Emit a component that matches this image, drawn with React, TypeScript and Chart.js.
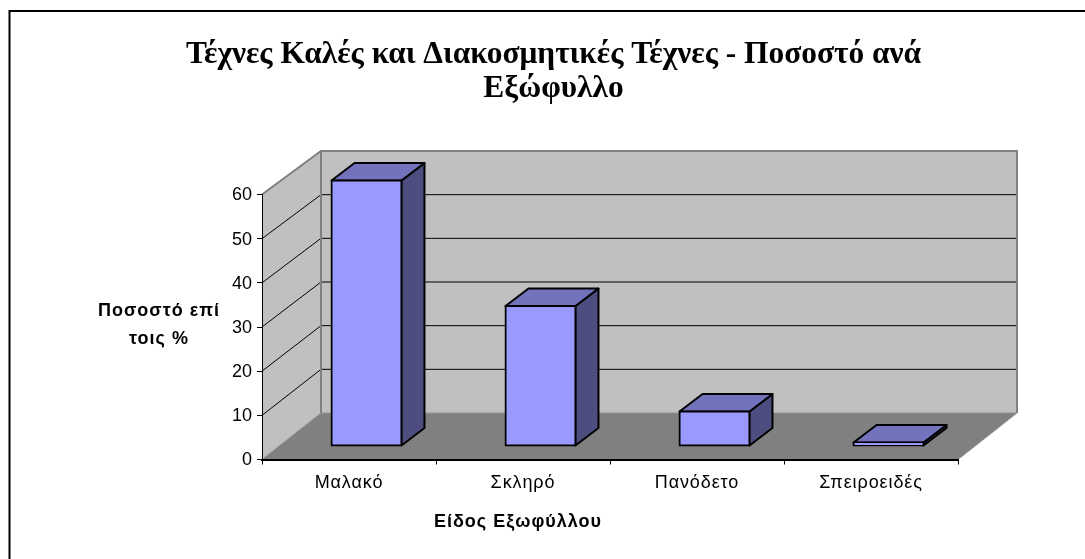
import React, { useEffect, useRef } from "react";
import { Chart, registerables } from "chart.js";

Chart.register(...registerables);

const categories = ["Μαλακό", "Σκληρό", "Πανόδετο", "Σπειροειδές"];
const percentages = [60.1, 31.7, 7.8, 0.8];
const titleLines = ["Τέχνες Καλές και Διακοσμητικές Τέχνες - Ποσοστό ανά", "Εξώφυλλο"];
const yMax = 60;
const yStep = 10;
const xAxisTitle = "Είδος Εξωφύλλου";
const yAxisTitleLines = ["Ποσοστό επί", "τοις %"];

const BAR_DX = 17.5, BAR_DY = -13.5;
const DEPTH_X = 23, DEPTH_Y = -17.5;
const BACK_X = 59;

const backY = (y: number, top: number, bottom: number) => {
  const t = (bottom - y) / (bottom - top);
  return y - 46.5 + 3 * t;
};

const poly = (ctx: CanvasRenderingContext2D, pts: number[][], fill: string | null, stroke: string | null, lw = 1) => {
  ctx.beginPath();
  pts.forEach((p, i) => (i ? ctx.lineTo(p[0], p[1]) : ctx.moveTo(p[0], p[1])));
  ctx.closePath();
  if (fill) { ctx.fillStyle = fill; ctx.fill(); }
  if (stroke) { ctx.strokeStyle = stroke; ctx.lineWidth = lw; ctx.lineJoin = "round"; ctx.stroke(); }
};

const line = (ctx: CanvasRenderingContext2D, pts: number[][], stroke: string, lw: number) => {
  ctx.beginPath();
  pts.forEach((p, i) => (i ? ctx.lineTo(p[0], p[1]) : ctx.moveTo(p[0], p[1])));
  ctx.strokeStyle = stroke; ctx.lineWidth = lw; ctx.stroke();
};

const scenePlugin = {
  id: "scene",
  beforeDraw(chart: any) {
    const { ctx, width, height, chartArea: a, scales } = chart;
    const ys = scales.y;
    const xs = scales.x;
    if (!xs._spaced) {
      const orig = xs.drawLabels;
      xs.drawLabels = function (area: any) {
        ctx.save();
        (ctx as any).letterSpacing = "0.9px";
        orig.call(xs, area);
        ctx.restore();
      };
      xs._spaced = true;
    }
    const L = a.left, R = a.right, T = a.top, B = a.bottom;
    const bx = (x: number) => x + BACK_X;
    const by = (y: number) => backY(y, T, B);
    ctx.save();
    ctx.fillStyle = "#fff";
    ctx.fillRect(0, 0, width, height);
    line(ctx, [[9.5, height], [9.5, 11], [width, 11]], "#000", 2);
    poly(ctx, [[L, T], [bx(L), by(T)], [bx(L), by(B)], [L, B]], "#C0C0C0", null);
    poly(ctx, [[bx(L), by(T)], [bx(R), by(T)], [bx(R), by(B)], [bx(L), by(B)]], "#C0C0C0", null);
    poly(ctx, [[L, B], [bx(L), by(B)], [bx(R), by(B)], [R, B]], "#808080", null);
    ys.ticks.forEach((t: any) => {
      if (t.value === 0 || t.value === yMax) return;
      const y = ys.getPixelForValue(t.value);
      line(ctx, [[L, y], [bx(L), by(y)], [bx(R), by(y)]], "#000", 1);
    });
    line(ctx, [[L, T], [bx(L), by(T)], [bx(R), by(T)], [bx(R), by(B)]], "#808080", 2);
    line(ctx, [[L, B], [bx(L), by(B)]], "#909090", 1);
    line(ctx, [[bx(L), by(T)], [bx(L), by(B)]], "#808080", 2);
    line(ctx, [[bx(L), by(B)], [bx(R), by(B)], [R, B]], "#949494", 1);
    ctx.restore();
  },
  beforeDatasetsDraw(chart: any) {
    const { ctx } = chart;
    ctx.save();
    chart.getDatasetMeta(0).data.forEach((bar: any) => {
      const l = bar.x - bar.width / 2 + BAR_DX;
      const r = bar.x + bar.width / 2 + BAR_DX;
      const t = bar.y + BAR_DY;
      const b = bar.base + BAR_DY;
      poly(ctx, [[r, t], [r + DEPTH_X, t + DEPTH_Y], [r + DEPTH_X, b + DEPTH_Y], [r, b]], "#4D4D80", "#000", 2);
      poly(ctx, [[l, t], [l + DEPTH_X, t + DEPTH_Y], [r + DEPTH_X, t + DEPTH_Y], [r, t]], "#7373BD", "#000", 2);
    });
    ctx.restore();
  },
  beforeDatasetDraw(chart: any) {
    chart.ctx.save();
    chart.ctx.translate(BAR_DX, BAR_DY);
  },
  afterDatasetDraw(chart: any) {
    chart.ctx.restore();
  },
  afterDraw(chart: any) {
    const { ctx } = chart;
    ctx.save();
    ctx.fillStyle = "#000";
    ctx.textAlign = "center";
    ctx.textBaseline = "middle";
    ctx.font = "bold 18px 'Liberation Sans'";
    (ctx as any).letterSpacing = "1px";
    ctx.fillText(yAxisTitleLines[0], 159, 311);
    ctx.fillText(yAxisTitleLines[1], 159, 339);
    ctx.fillText(xAxisTitle, 518, 522);
    ctx.restore();
  },
};

export default function App() {
  const ref = useRef<HTMLCanvasElement>(null);
  useEffect(() => {
    const chart = new Chart(ref.current!, {
      type: "bar",
      data: {
        labels: categories,
        datasets: [{
          data: percentages,
          backgroundColor: "#9999FF",
          borderColor: "#000",
          borderWidth: 2,
          borderSkipped: false,
          inflateAmount: 1,
          categoryPercentage: 0.402,
          barPercentage: 1,
          clip: false as any,
        }],
      },
      options: {
        responsive: false,
        animation: false,
        devicePixelRatio: 1,
        layout: { padding: { left: 149, right: 127, top: 0, bottom: 0 } },
        plugins: {
          legend: { display: false },
          tooltip: { enabled: false },
          title: {
            display: true,
            text: titleLines,
            color: "#000",
            font: { family: "'Liberation Serif'", size: 31.4, weight: "bold", lineHeight: 1.083 },
            padding: { top: 38, bottom: 88.5 },
          },
        },
        scales: {
          x: {
            grid: { drawOnChartArea: false, drawTicks: true, tickLength: 5, color: "#000" },
            border: { display: true, color: "#000", width: 2 },
            ticks: { color: "#000", font: { family: "'Liberation Sans'", size: 18 }, padding: 8, maxRotation: 0 },
            afterFit: (s: any) => { s.height = 99.5; s.paddingLeft = 0; s.paddingRight = 0; },
          },
          y: {
            min: 0,
            max: yMax,
            grid: { drawOnChartArea: false, drawTicks: true, tickLength: 5, color: "#000" },
            border: { display: true, color: "#000", width: 1 },
            ticks: { stepSize: yStep, color: "#000", font: { family: "'Liberation Sans'", size: 18 }, padding: 5, labelOffset: 1 },
            afterFit: (s: any) => { s.width = 113; s.paddingTop = 0; s.paddingBottom = 0; },
          },
        },
      } as any,
      plugins: [scenePlugin] as any,
    });
    return () => chart.destroy();
  }, []);
  return (
    <div style={{ position: "fixed", left: 0, top: 0, width: 1085, height: 559, background: "#fff" }}>
      <canvas ref={ref} width={1085} height={559} style={{ display: "block" }} />
    </div>
  );
}
